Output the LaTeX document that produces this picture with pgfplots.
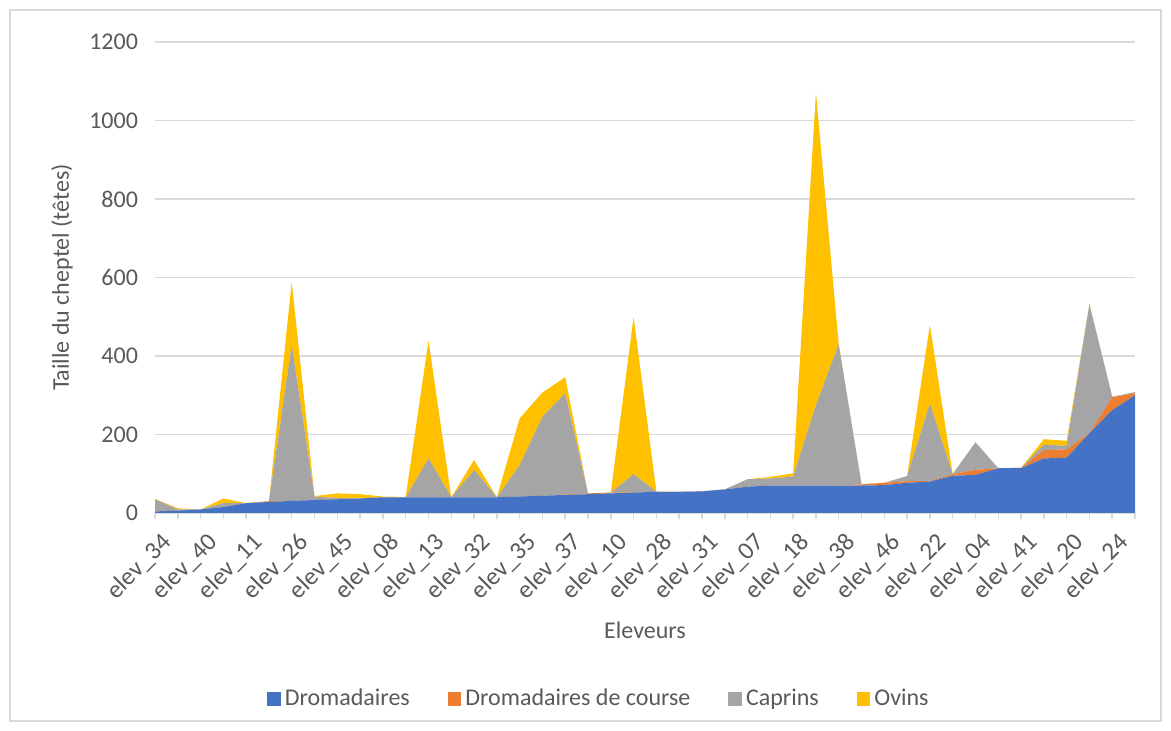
\documentclass[border=0pt]{standalone}
\usepackage{fontspec}
\setmainfont{Carlito}
\usepackage{pgfplots}
\pgfplotsset{compat=1.18}
\definecolor{cblue}{HTML}{4472C4}
\definecolor{corange}{HTML}{ED7D31}
\definecolor{cgray}{HTML}{A5A5A5}
\definecolor{cyellow}{HTML}{FFC000}
\definecolor{gridgray}{HTML}{D9D9D9}
\definecolor{txt}{HTML}{595959}
\begin{document}
\begin{tikzpicture}
\path[use as bounding box] (0pt,0pt) rectangle (585.5pt,365.5pt);
\draw[gridgray, line width=0.6pt] (5pt,5pt) rectangle (580.5pt,360.5pt);
\begin{axis}[
  at={(77.5pt,109pt)}, anchor=south west,
  scale only axis, width=490pt, height=235.5pt,
  xmin=0, xmax=43, ymin=0, ymax=1200,
  stack plots=y,
  font=\fontsize{12}{14}\selectfont,
  /pgf/number format/assume math mode=true,
  /pgf/number format/1000 sep={},
  axis x line*=bottom, axis y line*=left,
  x axis line style={draw=gridgray, line width=0.75pt, -},
  y axis line style={draw=none},
  ymajorgrids, grid style={gridgray, line width=0.75pt},
  ytick={0,200,...,1200},
  ytick style={draw=none},
  yticklabel style={text=txt, xshift=-2pt},
  xtick={0,...,43},
  xticklabels={elev\_34,,elev\_40,,elev\_11,,elev\_26,,elev\_45,,elev\_08,,elev\_13,,elev\_32,,elev\_35,,elev\_37,,elev\_10,,elev\_28,,elev\_31,,elev\_07,,elev\_18,,elev\_38,,elev\_46,,elev\_22,,elev\_04,,elev\_41,,elev\_20,,elev\_24,},
  xtick style={draw=gridgray, line width=0.75pt},
  tick align=outside, major tick length=3pt,
  xticklabel style={text=txt, rotate=45, anchor=east, inner sep=1pt, yshift=-11.5pt, xshift=-1.5pt, font=\fontsize{12.5}{14}\selectfont},
  xlabel={Eleveurs},
  ylabel={Taille du cheptel (têtes)},
  xlabel style={text=txt, at={(axis description cs:0.5,-0.248)}, anchor=center},
  ylabel style={text=txt, at={(axis description cs:-0.0949,0.5)}, anchor=center},
  legend columns=4,
  legend style={at={(axis description cs:0.454,-0.395)}, anchor=center, draw=none, fill=none,
    text=txt, font=\fontsize{12}{14}\selectfont,
    /tikz/every even column/.append style={column sep=17pt}},
  legend image code/.code={\fill[#1] (0pt,-3.4pt) rectangle (6.8pt,3.4pt);},
]
\addplot[fill=cblue, draw=none] coordinates {
(0,4)(1,6)(2,9)(3,15)(4,25)(5,28)(6,31)(7,33)(8,35)(9,37)(10,40)(11,40)(12,40)(13,40)(14,40)(15,40)(16,42)(17,44)(18,46)(19,48)(20,50)(21,52)(22,54)(23,54)(24,55)(25,60)(26,67)(27,70)(28,70)(29,70)(30,70)(31,70)(32,71)(33,77)(34,80)(35,95)(36,97)(37,114)(38,114)(39,139)(40,141)(41,203)(42,262)(43,300)
} \closedcycle;
\addlegendentry{Dromadaires}
\addplot[fill=corange, draw=none] coordinates {
(0,0)(1,0)(2,0)(3,0)(4,0)(5,2)(6,0)(7,0)(8,0)(9,0)(10,0)(11,0)(12,0)(13,0)(14,0)(15,0)(16,0)(17,0)(18,1)(19,2)(20,2)(21,1)(22,0)(23,0)(24,0)(25,0)(26,0)(27,0)(28,0)(29,0)(30,0)(31,3)(32,6)(33,4)(34,1)(35,4)(36,13)(37,0)(38,1)(39,21)(40,21)(41,0)(42,33)(43,5)
} \closedcycle;
\addlegendentry{Dromadaires de course}
\addplot[fill=cgray, draw=none] coordinates {
(0,31)(1,3)(2,0)(3,10)(4,0)(5,0)(6,397)(7,9)(8,3)(9,0)(10,0)(11,0)(12,99)(13,0)(14,70)(15,0)(16,80)(17,201)(18,258)(19,0)(20,0)(21,46)(22,0)(23,0)(24,0)(25,0)(26,19)(27,18)(28,23)(29,205)(30,360)(31,0)(32,0)(33,13)(34,198)(35,0)(36,70)(37,0)(38,0)(39,14)(40,9)(41,329)(42,1)(43,3)
} \closedcycle;
\addlegendentry{Caprins}
\addplot[fill=cyellow, draw=none] coordinates {
(0,1)(1,3)(2,0)(3,12)(4,0)(5,0)(6,161)(7,1)(8,12)(9,11)(10,2)(11,1)(12,300)(13,0)(14,25)(15,0)(16,119)(17,62)(18,41)(19,0)(20,0)(21,400)(22,0)(23,0)(24,0)(25,0)(26,0)(27,4)(28,8)(29,796)(30,0)(31,0)(32,0)(33,0)(34,200)(35,0)(36,0)(37,0)(38,0)(39,14)(40,13)(41,0)(42,0)(43,0)
} \closedcycle;
\addlegendentry{Ovins}
\end{axis}
\end{tikzpicture}
\end{document}
